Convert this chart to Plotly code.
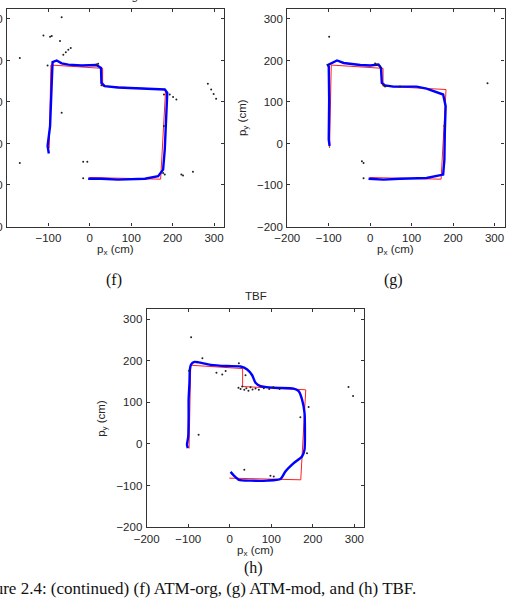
import plotly.graph_objects as go

# ---------------- data ----------------
tick_vals = [-200, -100, 0, 100, 200, 300]

# ground truth path (red), same in all panels
gt_x = [-98, -94, 31, 31, 183, 171, -1]
gt_y = [-11, 189, 181, 138, 130, -86, -82]

# (f) ATM-org estimated path
f_x = [-99, -102, -96, -94, -92, -90, -80, -68, -52, -20, 16, 27, 28, 36, 68, 124, 181, 187, 185, 181, 177, 165, 133, 68, 28, -4]
f_y = [-24, -6, 42, 106, 186, 196, 200, 193, 190, 188, 189, 182, 146, 138, 135, 133, 130, 122, 66, -14, -63, -79, -85, -87, -85, -85]
f_dots_x = [-68, -112, -96, -92, -72, -64, -58, -52, -46, -169, -102, 16, 20, 28, -68, -169, -16, -6, -16, 285, 293, 299, 305, 193, 201, 209, 179, 179, 177, 181, 221, 225, 249]
f_dots_y = [304, 260, 257, 259, 247, 214, 220, 226, 230, 206, 188, 190, 192, 140, 74, -47, -44, -44, -84, 144, 130, 119, 108, 118, 112, 106, 118, 42, -71, -75, -75, -77, -68]

# (g) ATM-mod estimated path
g_x = [-98, -100, -99, -100, -102, -80, -64, -40, -24, 0, 20, 26, 28, 36, 56, 112, 136, 176, 182, 180, 179, 176, 136, 72, 32, -4]
g_y = [-6, 10, 106, 186, 189, 200, 194, 190, 189, 188, 190, 182, 146, 140, 137, 137, 132, 118, 90, 26, -39, -75, -83, -85, -87, -85]
g_dots_x = [-99, -102, 12, 16, 24, 32, 36, 72, 179, 283, -20, -16, -16]
g_dots_y = [257, 188, 193, 190, 186, 141, 137, 137, 42, 145, -43, -47, -84]

# (h) TBF estimated path
h_x = [-101, -103, -100, -99, -99, -97, -96, -93, -85, -75, -46, -6, 26, 42, 54, 62, 74, 106, 154, 166, 174, 180, 181, 180, 174, 154, 134, 122, 90, 50, 22, 10, 2]
h_y = [-10, -2, 18, 67, 107, 147, 179, 191, 197, 196, 190, 187, 186, 179, 165, 147, 139, 135, 133, 127, 107, 75, 35, -14, -30, -46, -66, -84, -88, -88, -86, -76, -67]
h_dots_x = [-93, -66, 22, -32, -18, -10, 38, 21, 26, 30, 35, 40, 45, 50, 55, 62, 70, 82, 95, 105, 120, 286, 297, 190, 170, 186, 35, 98, 106, -75, -98]
h_dots_y = [256, 206, 194, 171, 167, 175, 165, 135, 132, 138, 130, 134, 128, 136, 131, 133, 130, 134, 132, 136, 132, 137, 115, 89, 64, -22, -62, -76, -78, 22, 176]

panel_titles = ["ATM-org", "ATM-mod", "TBF"]
sub_labels = ["(f)", "(g)", "(h)"]
caption = "Figure 2.4: (continued) (f) ATM-org, (g) ATM-mod, and (h) TBF."

# ---------------- figure ----------------
W, H = 507, 598
fig = go.Figure()

panels = [
    ("x", "y", f_x, f_y, f_dots_x, f_dots_y, False),
    ("x2", "y2", g_x, g_y, g_dots_x, g_dots_y, False),
    ("x3", "y3", h_x, h_y, h_dots_x, h_dots_y, True),
]
for xa, ya, bx, by, dx, dy, smooth in panels:
    fig.add_trace(go.Scatter(x=gt_x, y=gt_y, mode="lines", xaxis=xa, yaxis=ya,
                             line=dict(color="#ff2020", width=1), showlegend=False))
    fig.add_trace(go.Scatter(x=bx, y=by, mode="lines", xaxis=xa, yaxis=ya,
                             line=dict(color="#0000ff", width=2.4,
                                       shape="spline" if smooth else "linear",
                                       smoothing=0.6 if smooth else None),
                             showlegend=False))
    fig.add_trace(go.Scatter(x=dx, y=dy, mode="markers", xaxis=xa, yaxis=ya,
                             marker=dict(color="#222222", size=2), showlegend=False))

# pixel boxes of the axes (left, right, top, bottom)
boxes = [(7, 224, 9, 226.5), (287.3, 504.5, 9, 226.5), (146.7, 364.3, 309, 527.3)]

def px2x(p):
    return p / W

def px2y(p):
    return 1 - p / H

axis_common = dict(range=[-200, 324], tickvals=tick_vals, ticks="inside", ticklen=3,
                   tickcolor="#333333", showline=True, linecolor="#333333", linewidth=1.2,
                   mirror="ticks", showgrid=False, zeroline=False, automargin=False,
                   tickfont=dict(family="Liberation Sans, Arial", size=11.5, color="#262626"),
                   fixedrange=True)

layout_axes = {}
names = [("xaxis", "yaxis", "y", "x"), ("xaxis2", "yaxis2", "y2", "x2"), ("xaxis3", "yaxis3", "y3", "x3")]
for (xk, yk, yanchor, xanchor), (l, r, t, b) in zip(names, boxes):
    layout_axes[xk] = dict(axis_common, domain=[px2x(l), px2x(r)], anchor=yanchor, ticklabelstandoff=1)
    layout_axes[yk] = dict(axis_common, domain=[px2y(b), px2y(t)], anchor=xanchor, ticklabelstandoff=1)

annotations = []
label_font = dict(family="Liberation Sans, Arial", size=11.5, color="#262626")
serif_font = dict(family="Liberation Serif, DejaVu Serif", size=16, color="#111111")
cap_font = dict(family="Liberation Serif, DejaVu Serif", size=17, color="#111111")

title_y = [-4, -4, 296]
sub_y = [280, 280, 568]
xlab_y = [250, 250, 551]
for i, (l, r, t, b) in enumerate(boxes):
    cx = (l + r) / 2
    annotations.append(dict(text=panel_titles[i], x=px2x(cx), y=px2y(title_y[i]), xref="paper", yref="paper",
                            showarrow=False, xanchor="center", yanchor="middle", font=label_font))
    annotations.append(dict(text="p<sub>x</sub> (cm)", x=px2x(cx), y=px2y(xlab_y[i]), xref="paper", yref="paper",
                            showarrow=False, xanchor="center", yanchor="middle", font=label_font))
    annotations.append(dict(text=sub_labels[i], x=px2x(cx - 2), y=px2y(sub_y[i]), xref="paper", yref="paper",
                            showarrow=False, xanchor="center", yanchor="middle", font=serif_font))
    if l > 60:
        annotations.append(dict(text="p<sub>y</sub> (cm)", x=px2x(l - 45), y=px2y((t + b) / 2),
                                xref="paper", yref="paper", showarrow=False, textangle=-90,
                                xanchor="center", yanchor="middle", font=label_font))

annotations.append(dict(text=caption, x=px2x(418), y=px2y(588), xref="paper", yref="paper",
                        showarrow=False, xanchor="right", yanchor="middle", font=cap_font))

fig.update_layout(width=W, height=H, margin=dict(l=0, r=0, t=0, b=0),
                  paper_bgcolor="white", plot_bgcolor="white",
                  annotations=annotations, **layout_axes)

fig.write_html("out.html")
